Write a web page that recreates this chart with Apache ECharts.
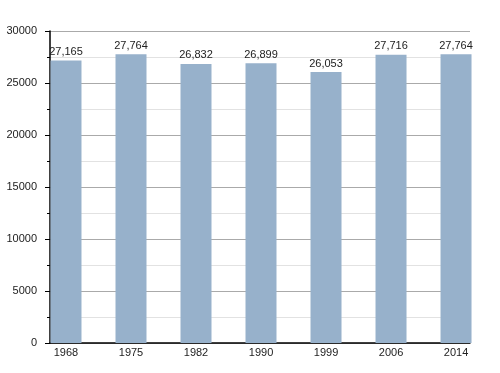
<!DOCTYPE html>
<html><head><meta charset="utf-8">
<script src="https://cdn.jsdelivr.net/npm/echarts@6/dist/echarts.min.js"></script>
<style>html,body{margin:0;padding:0;background:#fff}#c{width:500px;height:373px}</style>
</head><body><div id="c"></div>
<script>
const years = ['1968','1975','1982','1990','1999','2006','2014'];
const population = [27165, 27764, 26832, 26899, 26053, 27716, 27764];
const yTicks = [0, 5000, 10000, 15000, 20000, 25000, 30000];

const chart = echarts.init(document.getElementById('c'), null, {renderer:'canvas'});
const font = 'Liberation Sans, Arial, sans-serif';
chart.setOption({
  animation: false,
  grid: {left: 50, right: 30, top: 31, bottom: 30},
  xAxis: {
    type: 'value', min: -0.246, max: 6.215,
    axisLine: {show: true, onZero: false, lineStyle: {color: '#000', width: 1.5}},
    axisTick: {show: false},
    splitLine: {show: false},
    axisLabel: {customValues: years.map((y,i)=>i), formatter: v => years[Math.round(v)] || '',
      color: '#222', fontSize: 11, fontFamily: font, margin: 4}
  },
  yAxis: {
    type: 'value', min: yTicks[0], max: yTicks[yTicks.length-1], interval: 5000,
    axisLine: {show: true, onZero: false, lineStyle: {color: '#000', width: 1.5}},
    axisTick: {show: true, length: 5, lineStyle: {color: '#000'}},
    minorTick: {show: true, splitNumber: 2, length: 3, lineStyle: {color: '#000'}},
    splitLine: {show: true, lineStyle: {color: '#aaa', width: 1}},
    minorSplitLine: {show: true, lineStyle: {color: '#e2e2e2', width: 1}},
    axisLabel: {color: '#222', fontSize: 11, fontFamily: font, margin: 13, formatter: v => String(v)}
  },
  series: [{
    type: 'bar', barWidth: 31,
    data: population.map((v,i)=>[i, v]),
    itemStyle: {color: '#97b1cb'},
    label: {show: true, position: 'top', distance: 3, color: '#222', fontSize: 11, fontFamily: font,
      formatter: p => p.value[1].toLocaleString('en-US')}
  }]
});
</script></body></html>
